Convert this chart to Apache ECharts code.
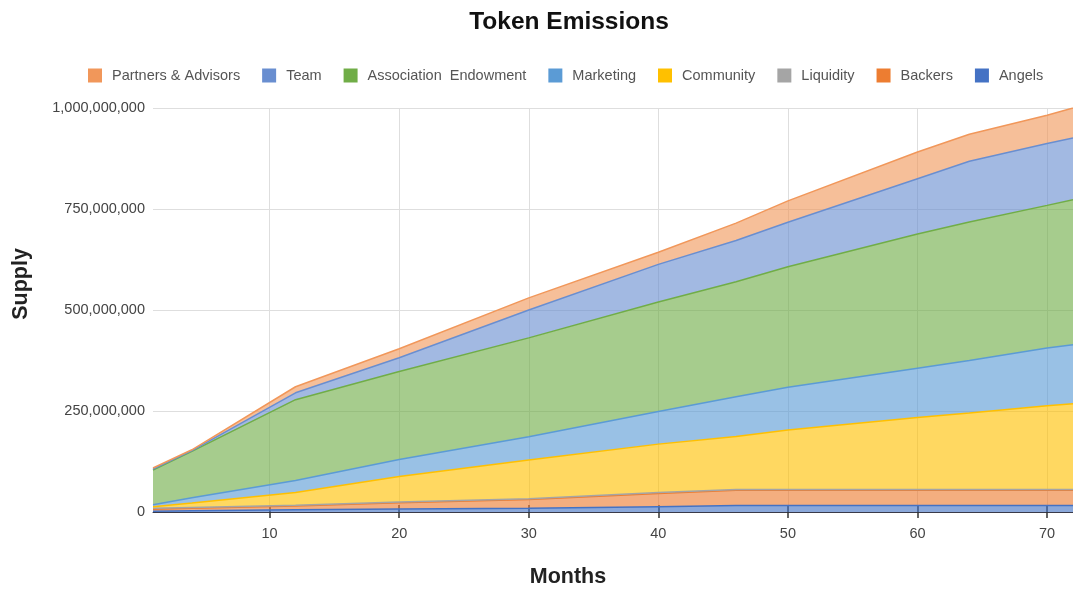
<!DOCTYPE html>
<html><head><meta charset="utf-8">
<script src="https://cdn.jsdelivr.net/npm/echarts@6/dist/echarts.min.js"></script>
<style>html,body{margin:0;padding:0;background:#fff}#c{width:1073px;height:590px}</style>
</head><body><div id="c"></div>
<script>
// Months at which the emission curves change slope
const months = [1, 4, 12, 20, 30, 40, 46, 50, 60, 64, 70, 72];
// Per-category supply, in millions of tokens (stacked bottom to top)
const angels      = [2, 3, 5.5, 7.5, 9, 13, 16, 16, 16, 16, 16, 16];
const backers     = [5, 6, 9.5, 15.5, 22, 33, 38, 38, 38, 38, 38, 38];
const liquidity   = [2, 2, 2, 2, 2, 2, 2, 2, 2, 2, 2, 2];
const community   = [4, 11, 31, 63, 96, 120, 131, 147, 178, 189, 207, 212];
const marketing   = [5, 13, 30, 42, 57, 81, 98, 106, 122, 130, 143, 146];
const endowment   = [86, 115, 200, 218, 245, 271, 285, 298, 332, 343, 353, 359];
const team        = [2, 2, 17, 34, 69, 93, 102, 110, 137, 150, 153, 153];
const partners    = [3, 2, 15, 22, 30, 30, 43, 53, 66, 67, 70, 74];

const seriesNames = ['Angels', 'Backers', 'Liquidity', 'Community', 'Marketing', 'Association  Endowment', 'Team', 'Partners & Advisors'];
const seriesValues = [angels, backers, liquidity, community, marketing, endowment, team, partners];
const seriesColors = ['#4472C4', '#ED7D31', '#A5A5A5', '#FFC000', '#5B9BD5', '#70AD47', '#698ED0', '#F1975A'];
const xTicks = [10, 20, 30, 40, 50, 60, 70];

const FONT = 'Liberation Sans, Arial, Helvetica, sans-serif';
const chart = echarts.init(document.getElementById('c'), null, {renderer: 'canvas'});

const series = seriesNames.map((name, i) => ({
  name,
  type: 'line',
  stack: 'total',
  symbol: 'none',
  // value first so the library stacks on the supply dimension
  dimensions: ['supply', 'month'],
  encode: {x: 'month', y: 'supply'},
  data: months.map((m, j) => [seriesValues[i][j] * 1e6, m]),
  itemStyle: {color: seriesColors[i]},
  lineStyle: {color: seriesColors[i], width: 1.5},
  areaStyle: {color: seriesColors[i], opacity: 0.62},
  emphasis: {disabled: true},
  z: 2
}));

chart.setOption({
  animation: false,
  backgroundColor: '#fff',
  title: {
    text: 'Token Emissions',
    left: 564, top: 5, textAlign: 'center',
    textStyle: {fontSize: 24.5, fontWeight: 'bold', color: '#111', fontFamily: FONT}
  },
  legend: {
    data: seriesNames.slice().reverse(),
    left: 83, top: 63,
    icon: 'rect', itemWidth: 14, itemHeight: 14, itemGap: 22,
    itemStyle: {opacity: 1},
    textStyle: {fontSize: 14.5, color: '#555', fontFamily: FONT, padding: [0, 0, 0, 5]}
  },
  grid: {left: 153, top: 108, width: 927, height: 404},
  xAxis: [{
    type: 'value', min: 1, max: 72,
    axisLine: {show: true, lineStyle: {color: '#3a3a4a', width: 1}},
    axisTick: {show: true, inside: true, length: 7, customValues: xTicks, lineStyle: {color: '#333', width: 1.5}},
    axisLabel: {customValues: xTicks, fontSize: 14.5, color: '#444', margin: 14, fontFamily: FONT},
    splitLine: {show: true, lineStyle: {color: '#dedede', width: 1}}
  }, {
    type: 'value', min: 1, max: 72, position: 'bottom',
    axisLine: {show: false},
    axisTick: {show: true, inside: false, length: 6, customValues: xTicks, lineStyle: {color: '#333', width: 1.5}},
    axisLabel: {show: false},
    splitLine: {show: false}
  }],
  yAxis: {
    type: 'value', min: 0, max: 1000000000, interval: 250000000,
    axisLine: {show: false}, axisTick: {show: false},
    axisLabel: {fontSize: 14.5, color: '#444', margin: 8, fontFamily: FONT,
      formatter: v => Number(v).toLocaleString('en-US')},
    splitLine: {show: true, lineStyle: {color: '#dedede', width: 1}}
  },
  graphic: [
    {type: 'text', x: 568, y: 577, z: 10,
      style: {text: 'Months', font: 'bold 21.5px ' + FONT, fill: '#222', align: 'center', verticalAlign: 'middle'}},
    {type: 'text', x: 21, y: 284, rotation: Math.PI / 2, z: 10,
      style: {text: 'Supply', font: 'bold 21.5px ' + FONT, fill: '#222', align: 'center', verticalAlign: 'middle'}}
  ],
  series
});
</script></body></html>
